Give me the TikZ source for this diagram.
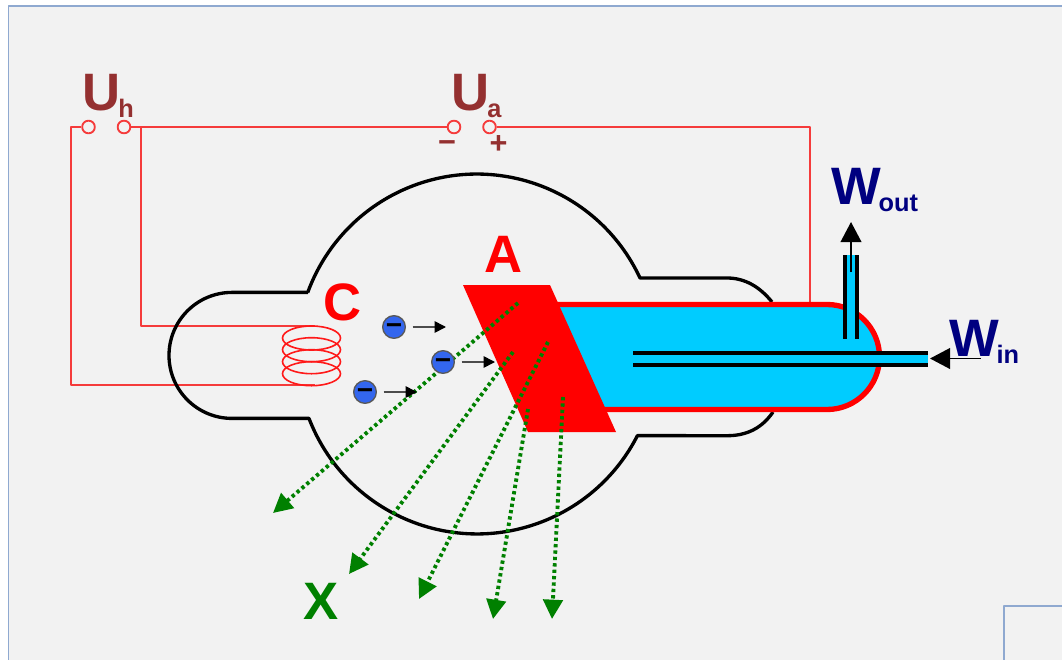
\documentclass[tikz,border=0pt]{standalone}
\usepackage{fontspec}
\setsansfont{Liberation Sans}
\usetikzlibrary{arrows.meta}
\definecolor{pagegrey}{HTML}{F2F2F2}
\definecolor{framecol}{HTML}{8FA9D0}
\definecolor{wirered}{HTML}{F53B3B}
\definecolor{labbrown}{HTML}{943030}
\definecolor{water}{HTML}{00CCFF}
\definecolor{ray}{HTML}{008000}
\definecolor{elec}{HTML}{3366EE}
\newcommand{\lowsub}[1]{\hspace{-1.8pt}\raisebox{-5.25pt}{\fontsize{19}{22}\selectfont #1}}
\tikzset{
	wire/.style={wirered, line width=1.4pt},
	term/.style={circle, draw=wirered, fill=pagegrey, line width=1.4pt, minimum size=9.5pt, inner sep=0pt},
	bigtext/.style={anchor=base west, inner sep=0pt, font=\sffamily\bfseries\fontsize{39.5}{42}\selectfont},
	signtext/.style={inner sep=0pt, text=labbrown, font=\sffamily\bfseries\fontsize{23}{23}\selectfont},
	duct/.style={black, line width=2.3pt},
	raypath/.style={ray, line width=2.9pt, dash pattern=on 2.5pt off 2.3pt, -{Triangle[length=14.5pt, width=14.5pt]}},
	flow/.style={black, line width=1.3pt, -{Triangle[length=15pt, width=15.5pt]}},
	electron/.style={circle, draw=black!65, fill=elec, line width=1pt, minimum size=17pt, inner sep=0pt, font=\sffamily\bfseries\fontsize{21}{21}\selectfont},
	drift/.style={black!70, line width=1.2pt, shorten <=5pt, -{Triangle[color=black, length=8.5pt, width=8.5pt]}}
}
\begin{document}
\begin{tikzpicture}[x=.75pt, y=-.75pt, line join=round]
	\useasboundingbox (0,0) rectangle (1062,660);
	\fill[white] (0,0) rectangle (1062,660);
	\fill[pagegrey] (8.5,6) rectangle (1062,660);
	\draw[framecol, line width=1pt] (1062,6) -- (8.5,6) -- (8.5,660);
	\draw[framecol, line width=1pt] (1062,606) -- (1004,606) -- (1004,660);
	% circuit
	\foreach \x/\l in {88.5/UhL, 124/UhR, 454/UaL, 489.5/UaR}
	\node[term] (\l) at (\x,127) {};
	\foreach \x/\y/\l in {71/127/HL, 141/127/HR, 315/385/CB, 315/326/CT, 810/304/TB}
	\coordinate (\l) at (\x,\y);
	\draw[wire] (UhL) -- (HL) |- (CB);
	\draw[wire] (UhR) -- (UaL);
	\draw[wire] (HR) |- (CT);
	\draw[wire] (UaR) -| (TB);
	\foreach \y in {338,349.7,361.7,373.7}
	\draw[red!90!white, line width=1.2pt] (311.5,\y) ellipse [x radius=29, y radius=12];
	% bulb
	\draw[black, line width=2.5pt] (308,292.4) -- (232,292.4) arc[start angle=-90, end angle=-270, radius=63]
		-- (309,418.4) arc[start angle=159, end angle=27, radius=180] -- (727,435.7)
		.. controls (747,435.7) and (762,428) .. (773,412);
	\draw[black, line width=2.5pt] (772,302) .. controls (760,287) and (745,278) .. (727,278)
		-- (640,278) arc[start angle=-25, end angle=-160, radius=180];
	% anode
	\draw[red, fill=water, line width=4pt] (550,304.5) -- (827,304.5) arc[start angle=-90, end angle=90, radius=52.5] -- (590,409.5);
	\fill[red] (463,285) -- (550,285) -- (616,432) -- (528,432) -- cycle;
	% water
	\fill[water] (845,255) rectangle (857,345);
	\fill[water] (633,353) rectangle (928,365);
	\foreach \x in {845,857}
	\draw[duct] (\x,255) -- (\x,339);
	\foreach \y in {353,365}
	\draw[duct] (633,\y) -- (928,\y);
	\foreach \x/\y/\l in {851/272/WoS, 851/222/WoE, 981/358.5/WiS, 930/358.5/WiE}
	\coordinate (\l) at (\x,\y);
	\draw[flow] (WoS) -- (WoE);
	\draw[flow] (WiS) -- (WiE);
	% rays
	\foreach \a/\b/\c/\d/\l in {518/303/273/513/1, 513/352/349/574/2, 548/342/419/599/3, 528/409/493/619/4, 563/397/552/619/5}{
		\coordinate (RS\l) at (\a,\b);
		\coordinate (RE\l) at (\c,\d);
		\draw[raypath] (RS\l) -- (RE\l);
	}
	% electrons
	\foreach \x/\y/\t/\l in {394/327/446/E1, 443/362/495/E2, 365/392/417/E3}{
		\node[electron] (\l) at (\x,\y) {\raisebox{-5.6pt}[0pt][0pt]{−}};
		\coordinate (\l T) at (\t,\y);
		\draw[drift] (\l) -- (\l T);
	}
	% labels
	\node[bigtext, text=labbrown] (Uh) at (82.5,110) {U\lowsub{h}};
	\node[bigtext, text=labbrown] (Ua) at (451.5,110) {U\lowsub{a}};
	\node[signtext] (minus) at (447,147) {−};
	\node[signtext] (plus) at (498.5,145) {+};
	\node[bigtext, text=red] (A) at (484,272) {A};
	\node[bigtext, text=red] (C) at (323,320) {C};
	\node[bigtext, text=ray] (X) at (303,619) {X};
	\node[bigtext, text=black!50!blue] (Wo) at (831,204) {W\lowsub{out}};
	\node[bigtext, text=black!50!blue] (Wi) at (949,356) {W\lowsub{in}};
\end{tikzpicture}
\end{document}
